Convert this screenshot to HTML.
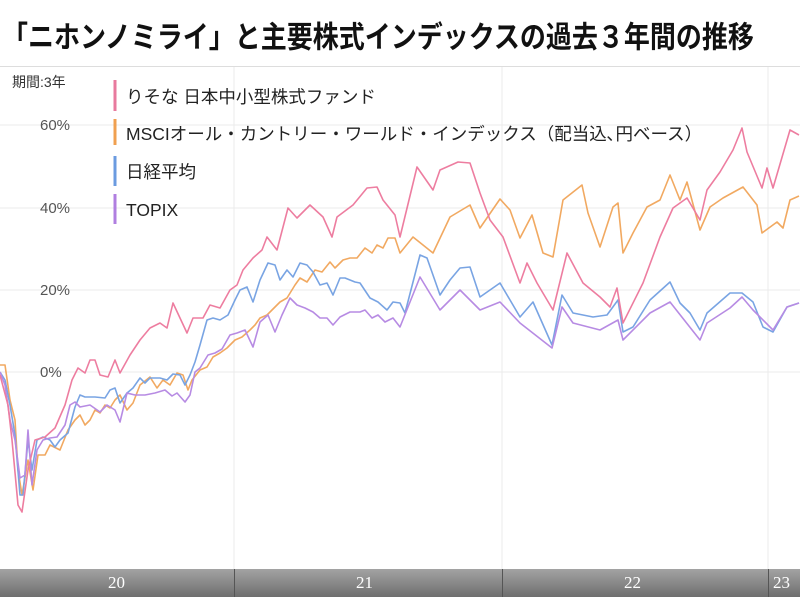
<!DOCTYPE html>
<html><head><meta charset="utf-8"><style>
body{margin:0;background:#fff;width:800px;height:597px;overflow:hidden;position:relative;font-family:"Liberation Sans","Noto Sans CJK JP",sans-serif}
.title{position:absolute;left:2px;top:14px;font-size:26px;font-weight:bold;letter-spacing:0px;white-space:nowrap;color:#111;transform:scaleY(1.15);transform-origin:left top}
.bar{position:absolute;left:0;top:569px;width:800px;height:28px;background:linear-gradient(#a3a3a3,#6e6e6e)}
.bar span{position:absolute;top:4px;color:#fff;font-family:"Liberation Serif",serif;font-size:17px}
.div{position:absolute;top:569px;width:1px;height:28px;background:#555}
</style></head><body>
<div class="title">「ニホンノミライ」と主要株式インデックスの過去３年間の推移</div>
<svg width="800" height="597" style="position:absolute;left:0;top:0">
<line x1="0" y1="66.5" x2="800" y2="66.5" stroke="#ddd"/>
<g stroke="#ebebeb" stroke-width="1">
<line x1="0" y1="125" x2="800" y2="125"/><line x1="0" y1="208" x2="800" y2="208"/>
<line x1="0" y1="290" x2="800" y2="290"/><line x1="0" y1="372" x2="800" y2="372"/>
<line x1="234" y1="67" x2="234" y2="569"/><line x1="502" y1="67" x2="502" y2="569"/><line x1="768" y1="67" x2="768" y2="569"/>
</g>
<g font-size="15" fill="#555" font-family="Liberation Sans,sans-serif">
<text x="40" y="130">60%</text><text x="40" y="213">40%</text><text x="40" y="295">20%</text><text x="40" y="377">0%</text>
</g>
<text x="12" y="87" font-size="14" fill="#333" font-family="Liberation Sans,Noto Sans CJK JP,sans-serif">期間:3年</text>
<g fill="none" stroke-width="1.6" stroke-linejoin="round" opacity="0.9">
<polyline stroke="#f0a050" points="0,365 5,365 10,400 15,420 18,470 22,495 28,460 33,490 38,455 45,455 50,445 60,450 68,430 75,420 80,415 85,425 90,420 95,410 100,413 105,405 110,408 115,400 120,395 127,410 133,403 140,385 150,377 157,388 163,380 170,385 177,373 183,375 188,390 192,380 200,370 207,367 213,357 220,353 227,348 235,340 242,337 250,330 255,325 260,318 267,315 272,310 280,302 287,298 295,285 300,278 307,282 315,270 322,272 330,262 335,268 343,260 350,258 357,258 365,248 372,253 377,245 383,248 388,238 395,238 400,253 413,237 433,253 450,217 470,205 480,228 500,199 510,210 520,238 532,215 543,253 553,257 563,200 582,185 588,213 600,247 613,207 618,203 623,253 633,233 647,207 660,200 670,175 680,200 687,182 700,230 710,207 723,198 743,187 757,205 762,233 777,222 783,228 790,200 799,196"/>
<polyline stroke="#6b9be0" points="0,372 5,380 10,405 15,435 20,495 23,495 28,440 32,470 37,440 43,437 50,440 55,447 60,440 68,433 75,407 80,395 85,397 95,397 105,398 110,390 115,388 120,403 127,393 133,388 140,378 145,383 150,378 160,378 167,380 173,374 180,375 185,385 190,375 195,362 200,345 207,320 213,318 220,320 228,315 235,300 240,290 247,287 253,302 260,280 268,263 275,265 280,280 287,270 293,277 300,263 307,265 313,272 320,285 327,283 333,295 340,278 345,278 355,282 360,283 370,298 378,302 387,310 393,302 400,303 405,313 420,255 427,258 440,295 450,280 460,268 470,267 480,297 500,283 520,317 533,302 552,345 562,295 573,313 593,317 607,315 618,300 623,332 633,327 650,300 670,282 680,303 690,313 700,330 707,313 730,293 742,293 753,302 763,327 773,332 787,307 799,303"/>
<polyline stroke="#b07fe0" points="0,372 5,385 10,420 15,440 20,478 25,475 28,430 32,485 37,450 43,440 50,438 57,437 65,425 70,405 75,402 80,407 90,405 100,412 107,405 115,410 120,422 127,393 135,395 145,395 155,393 165,390 172,396 177,393 185,402 190,395 195,372 200,368 208,355 215,353 222,349 230,335 237,333 245,330 253,347 260,322 268,315 275,332 282,315 290,298 297,305 305,308 313,312 320,318 327,318 333,325 340,317 350,312 360,312 365,310 372,318 378,315 385,322 393,318 400,327 420,277 440,310 460,290 480,310 500,302 520,323 552,348 562,307 573,323 600,330 618,320 623,340 650,313 670,302 700,340 707,323 730,308 742,297 753,310 773,330 787,307 799,303"/>
<polyline stroke="#ec7096" points="0,375 8,405 12,440 18,505 22,512 28,470 35,440 45,437 55,428 65,405 72,380 78,368 85,373 90,360 95,360 100,375 108,377 115,360 120,373 130,355 140,340 150,328 160,323 167,328 173,303 180,318 187,333 193,318 203,318 210,305 220,308 230,290 237,285 243,270 253,258 262,250 267,237 277,250 288,208 297,218 310,205 323,217 332,237 337,217 353,205 367,188 377,187 383,200 395,215 400,237 417,167 433,190 440,170 458,162 470,163 480,193 490,220 503,237 520,283 527,263 537,283 553,310 567,253 583,283 600,297 610,307 617,288 623,323 643,283 660,237 673,208 687,198 700,220 707,190 720,172 733,150 742,128 747,152 762,188 767,168 773,188 790,130 799,135"/>
</g>
<g stroke-width="3">
<line x1="115" y1="80" x2="115" y2="111" stroke="#e87a9e"/>
<line x1="115" y1="119" x2="115" y2="145" stroke="#f0a050"/>
<line x1="115" y1="156" x2="115" y2="186" stroke="#6b9be0"/>
<line x1="115" y1="194" x2="115" y2="224" stroke="#b07fe0"/>
</g>
<g font-size="17.5" fill="#222" font-family="Liberation Sans,Noto Sans CJK JP,sans-serif">
<text x="126" y="103">りそな 日本中小型株式ファンド</text>
<text x="126" y="140">MSCIオール・カントリー・ワールド・インデックス（配当込､円ベース）</text>
<text x="126" y="178">日経平均</text>
<text x="126" y="216">TOPIX</text>
</g>
</svg>
<div class="bar"><span style="left:108px">20</span><span style="left:356px">21</span><span style="left:624px">22</span><span style="left:773px">23</span></div>
<div class="div" style="left:234px"></div><div class="div" style="left:502px"></div><div class="div" style="left:768px"></div>
</body></html>
